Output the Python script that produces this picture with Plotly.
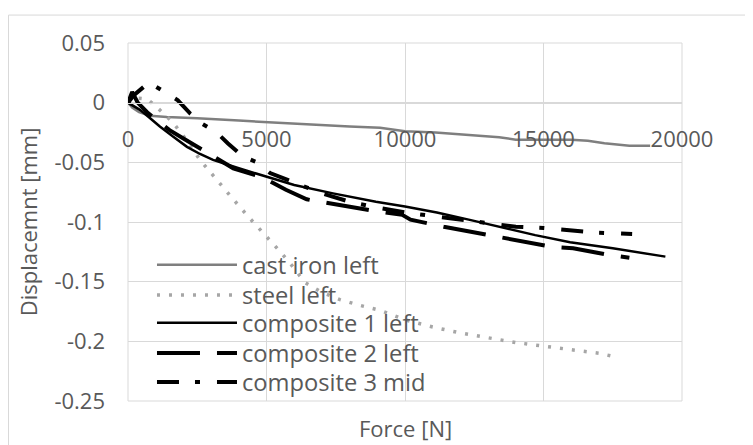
import plotly.graph_objects as go

# ---- data ----
cast_force = [0, 150, 400, 800, 1400, 2500, 4000, 5500, 7000, 8000, 9100, 10000, 11100, 12200, 13400, 14000, 16000, 16600, 17200, 18100, 18850]
cast_disp = [0, -0.004, -0.008, -0.011, -0.012, -0.013, -0.015, -0.017, -0.019, -0.020, -0.021, -0.024, -0.025, -0.027, -0.029, -0.031, -0.031, -0.032, -0.034, -0.036, -0.036]

steel_force = [0, 300, 700, 1050, 1600, 2100, 2600, 3200, 3800, 4400, 5000, 5500, 5900, 6400, 7000, 7650, 8400, 9100, 10000, 11000, 12000, 13000, 14000, 15000, 16000, 17000, 17600]
steel_disp = [0, 0.004, 0.003, -0.004, -0.016, -0.031, -0.048, -0.065, -0.081, -0.097, -0.112, -0.125, -0.136, -0.151, -0.159, -0.165, -0.170, -0.174, -0.182, -0.188, -0.193, -0.197, -0.201, -0.204, -0.207, -0.210, -0.213]

comp1_force = [0, 200, 430, 800, 1150, 1600, 2130, 2600, 3070, 4000, 5000, 6000, 7400, 8950, 10000, 11150, 12300, 13540, 14700, 15960, 17500, 19400]
comp1_disp = [0, -0.003, -0.006, -0.013, -0.020, -0.028, -0.037, -0.043, -0.048, -0.055, -0.062, -0.069, -0.076, -0.083, -0.087, -0.092, -0.098, -0.105, -0.111, -0.117, -0.122, -0.129]

comp2_force = [0, 150, 350, 690, 1000, 1500, 2000, 2500, 3070, 3800, 4900, 5700, 6450, 7900, 8700, 9900, 10200, 11400, 12100, 13400, 14000, 15350, 16070, 17330, 18100]
comp2_disp = [0, 0.009, 0.0, -0.008, -0.014, -0.023, -0.030, -0.037, -0.045, -0.055, -0.063, -0.073, -0.081, -0.087, -0.090, -0.094, -0.098, -0.104, -0.107, -0.112, -0.115, -0.121, -0.122, -0.1275, -0.130]

comp3_force = [0, 200, 760, 1400, 1800, 2240, 2700, 3200, 3600, 4150, 4650, 5130, 6000, 7000, 8000, 9000, 10000, 11000, 12000, 13000, 14000, 15000, 16000, 17000, 18200]
comp3_disp = [0, 0.006, 0.017, 0.008, 0.002, -0.009, -0.018, -0.025, -0.034, -0.045, -0.050, -0.059, -0.067, -0.076, -0.083, -0.088, -0.092, -0.095, -0.098, -0.101, -0.104, -0.105, -0.107, -0.109, -0.110]

x_tickvals = [0, 5000, 10000, 15000, 20000]
x_ticktext = ["0", "5000", "10000", "15000", "20000"]
y_tickvals = [0.05, 0, -0.05, -0.1, -0.15, -0.2, -0.25]
y_ticktext = ["0.05", "0", "-0.05", "-0.1", "-0.15", "-0.2", "-0.25"]

series_names = ["cast iron left", "steel left", "composite 1 left", "composite 2 left", "composite 3 mid"]

FONT = "Open Sans"
TXT = "#595959"
GRID = "#d9d9d9"

fig = go.Figure()
fig.add_trace(go.Scatter(x=cast_force, y=cast_disp, mode="lines", name=series_names[0], legend="legend",
                         line=dict(color="#7f7f7f", width=2.5)))
fig.add_trace(go.Scatter(x=steel_force, y=steel_disp, mode="lines", name=series_names[1], legend="legend2",
                         line=dict(color="#a6a6a6", width=3.5, dash="3px,9px")))
fig.add_trace(go.Scatter(x=comp1_force, y=comp1_disp, mode="lines", name=series_names[2], legend="legend3",
                         line=dict(color="#000000", width=2.5)))
fig.add_trace(go.Scatter(x=comp2_force, y=comp2_disp, mode="lines", name=series_names[3], legend="legend4",
                         line=dict(color="#000000", width=4, dash="43px,17px")))
fig.add_trace(go.Scatter(x=comp3_force, y=comp3_disp, mode="lines", name=series_names[4], legend="legend5",
                         line=dict(color="#000000", width=4, dash="22px,16px,5px,17px")))

legend_rows = [0.380, 0.296, 0.218, 0.134, 0.053]
leg_common = dict(x=0.0433, xanchor="left", yanchor="middle", bgcolor="rgba(0,0,0,0)",
                  font=dict(family=FONT, size=23.7, color=TXT), itemwidth=80)

fig.update_layout(
    width=745, height=437,
    margin=dict(l=120, r=71, t=35, b=44),
    paper_bgcolor="white", plot_bgcolor="white",
    font=dict(family=FONT, size=22, color=TXT),
    showlegend=True,
    legend=dict(y=legend_rows[0], **leg_common),
    legend2=dict(y=legend_rows[1], **leg_common),
    legend3=dict(y=legend_rows[2], **leg_common),
    legend4=dict(y=legend_rows[3], **leg_common),
    legend5=dict(y=legend_rows[4], **leg_common),
    xaxis=dict(range=[0, 20000], tickvals=x_tickvals, ticktext=x_ticktext, showgrid=True,
               gridcolor=GRID, gridwidth=1, showline=True, linecolor=GRID, linewidth=1,
               anchor="free", position=0.8333, zeroline=False, ticks="",
               ticklabelstandoff=17, tickfont=dict(size=22, color=TXT)),
    yaxis=dict(range=[-0.25, 0.05], tickvals=y_tickvals, ticktext=y_ticktext, showgrid=True,
               gridcolor=GRID, gridwidth=1, zeroline=False, ticks="", showline=False,
               ticklabelstandoff=22, tickfont=dict(size=22, color=TXT),
               title=dict(text="Displacemnt [mm]", font=dict(size=22, color=TXT), standoff=10)),
    annotations=[dict(text="Force [N]", xref="paper", yref="paper", x=0.5, y=-0.075,
                      xanchor="center", yanchor="middle", showarrow=False,
                      font=dict(family=FONT, size=22, color=TXT))],
    shapes=[
        dict(type="rect", xref="paper", yref="paper", x0=0, x1=1, y0=0, y1=1,
             line=dict(color=GRID, width=1), layer="below"),
        dict(type="rect", xref="paper", yref="paper", x0=-0.2157, x1=1.2, y0=-0.2, y1=1.078,
             line=dict(color=GRID, width=1), layer="below"),
    ],
)

fig.write_html("out.html")
